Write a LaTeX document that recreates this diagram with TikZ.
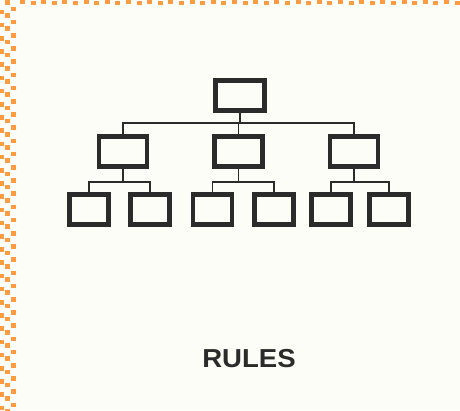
\documentclass[tikz,border=0pt]{standalone}
\usepackage{fontspec}
\setmainfont{Liberation Sans}
\definecolor{paper}{HTML}{FDFDF7}
\definecolor{dots}{HTML}{FF9C40}
\definecolor{ink}{HTML}{2B2B2B}
\begin{document}
\begin{tikzpicture}[x=1pt,y=-1pt,
  topbox/.style={draw=ink,line width=4.8pt,rectangle,minimum width=49pt,minimum height=30pt,inner sep=0pt},
  midbox/.style={draw=ink,line width=4.8pt,rectangle,minimum width=48pt,minimum height=30pt,inner sep=0pt},
  leafbox/.style={draw=ink,line width=4.8pt,rectangle,minimum width=39pt,minimum height=30pt,inner sep=0pt},
  link/.style={draw=ink,line width=1.6pt},
  sq/.style={fill=dots}]
\useasboundingbox (0,0) rectangle (460,410);
\fill[paper] (0,0) rectangle (460,410);
% dotted border strips
\fill[white] (0,0) rectangle (16,410);
\fill[white] (0,0) rectangle (460,5);
\foreach \k in {0,...,62}{
  \pgfmathsetmacro{\yy}{\k*6.6}
  \pgfmathsetmacro{\xx}{mod(\k,2)==0 ? 5 : 10.5}
  \fill[sq] (\xx,\yy) rectangle ++(5,4.6);
  \ifodd\k \fill[sq] (0,\yy+3) rectangle ++(3.5,4.6); \fi
}
\foreach \k in {0,...,42}{
  \pgfmathsetmacro{\xx}{20+\k*10.6}
  \pgfmathsetmacro{\yy}{mod(\k,2)==0 ? 0 : 1.2}
  \fill[sq] (\xx,\yy) rectangle ++(5,3.8);
}
% tree
\node[topbox] (t) at (240,95.5) {};
\node[midbox] (m1) at (123,151.5) {};
\node[midbox] (m2) at (238.5,151.5) {};
\node[midbox] (m3) at (354,151.5) {};
\node[leafbox] (b1) at (89,209.5) {};
\node[leafbox] (b2) at (150,209.5) {};
\node[leafbox] (b3) at (212.5,209.5) {};
\node[leafbox] (b4) at (274,209.5) {};
\node[leafbox] (b5) at (331,209.5) {};
\node[leafbox] (b6) at (389,209.5) {};
\coordinate (tb) at (240,123);
\draw[link] (t.south) -- (tb);
\draw[link] (tb) -| (m1.north);
\draw[link] (tb) -| (m2.north);
\draw[link] (tb) -| (m3.north);
\coordinate (m1j) at (123,182);
\coordinate (m2j) at (238.5,182);
\coordinate (m3j) at (354,182);
\draw[link] (m1.south) -- (m1j);
\draw[link] (m1j) -| (b1.north);
\draw[link] (m1j) -| (b2.north);
\draw[link] (m2.south) -- (m2j);
\draw[link] (m2j) -| (b3.north);
\draw[link] (m2j) -| (b4.north);
\draw[link] (m3.south) -- (m3j);
\draw[link] (m3j) -| (b5.north);
\draw[link] (m3j) -| (b6.north);
\node[text=ink,font=\fontsize{26}{28}\selectfont\bfseries,xscale=1.06,inner sep=0pt] (title) at (249,359) {RULES};
\end{tikzpicture}
\end{document}
